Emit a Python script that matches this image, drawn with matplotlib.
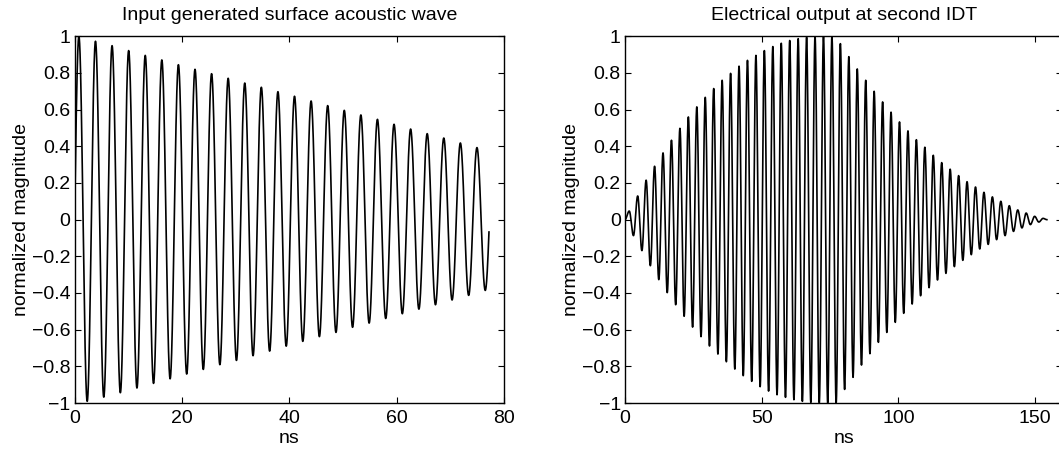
import numpy as np
import matplotlib
matplotlib.use("Agg")
import matplotlib.pyplot as plt
from matplotlib.ticker import FuncFormatter

# ---------------- data ----------------
# carrier period (ns) and time of first positive peak
PERIOD = 3.09
LEFT_FIRST_PEAK_T = 0.8
LEFT_END_T = 77.2
RIGHT_FIRST_PEAK_T = 1.55
RIGHT_END_T = 154.35

# left: successive positive peaks and negative troughs
left_peaks = [1.0, 0.973, 0.949, 0.922, 0.896, 0.871, 0.845, 0.820, 0.796, 0.771,
              0.745, 0.722, 0.698, 0.673, 0.647, 0.622, 0.596, 0.571, 0.547, 0.520,
              0.494, 0.469, 0.445, 0.418, 0.393, 0.37]
left_troughs = [-0.991, -0.968, -0.944, -0.918, -0.893, -0.868, -0.842, -0.817, -0.791,
                -0.768, -0.742, -0.717, -0.690, -0.664, -0.638, -0.615, -0.587, -0.564,
                -0.539, -0.513, -0.488, -0.464, -0.438, -0.413, -0.386]

# right: successive positive peaks and negative troughs
right_peaks = [0.047, 0.129, 0.215, 0.291, 0.364, 0.433, 0.498, 0.560, 0.615, 0.667,
               0.715, 0.760, 0.798, 0.837, 0.869, 0.896, 0.922, 0.944, 0.962, 0.977,
               0.987, 0.995, 1.0, 1.0, 1.0, 0.960, 0.889, 0.822, 0.760, 0.700,
               0.642, 0.586, 0.533, 0.484, 0.436, 0.395, 0.351, 0.311, 0.275, 0.240,
               0.207, 0.178, 0.149, 0.124, 0.100, 0.076, 0.053, 0.036, 0.018, 0.007]
right_troughs = [-0.087, -0.169, -0.251, -0.327, -0.398, -0.464, -0.527, -0.586, -0.638,
                 -0.689, -0.733, -0.775, -0.815, -0.851, -0.882, -0.911, -0.935, -0.955,
                 -0.969, -0.982, -0.991, -0.997, -1.0, -1.0, -1.0, -0.926, -0.860,
                 -0.793, -0.731, -0.669, -0.615, -0.560, -0.511, -0.460, -0.415, -0.371,
                 -0.329, -0.293, -0.256, -0.222, -0.191, -0.160, -0.135, -0.109, -0.087,
                 -0.064, -0.045, -0.027, -0.013]

left_xticks = [0, 20, 40, 60, 80]
right_xticks = [0, 50, 100, 150]
yticks = [-1, -0.8, -0.6, -0.4, -0.2, 0, 0.2, 0.4, 0.6, 0.8, 1]

titles = ["Input generated surface acoustic wave", "Electrical output at second IDT"]
xlabel = "ns"
ylabel = "normalized magnitude"


def extrema_curve(first_t, peaks, troughs, end_t, end_val=None, start_half=False):
    """Smooth curve through alternating extrema (half-cosine between them)."""
    ts, vs = [0.0], [0.0]
    half = PERIOD / 2.0
    n = max(len(peaks), len(troughs))
    t = first_t
    for i in range(n):
        if i < len(peaks):
            ts.append(t); vs.append(peaks[i]); t += half
        if i < len(troughs):
            ts.append(t); vs.append(troughs[i]); t += half
    if end_val is not None:
        ts.append(end_t); vs.append(end_val)
    ts = np.array(ts); vs = np.array(vs)
    tt = np.linspace(0, end_t, 6000)
    yy = np.empty_like(tt)
    for j, x in enumerate(tt):
        i = np.searchsorted(ts, x, side="right") - 1
        i = min(max(i, 0), len(ts) - 2)
        t0, t1, v0, v1 = ts[i], ts[i + 1], vs[i], vs[i + 1]
        f = (x - t0) / (t1 - t0)
        if i == 0 and not start_half:
            yy[j] = v1 * np.sin(0.5 * np.pi * f)
        else:
            yy[j] = (v0 + v1) / 2 + (v0 - v1) / 2 * np.cos(np.pi * f)
    return tt, yy


plt.rcParams['font.family'] = ['Liberation Sans', 'DejaVu Sans']
plt.rcParams['axes.unicode_minus'] = True

W, H = 1059, 449
fig = plt.figure(figsize=(W / 100, H / 100), dpi=100)

def px_axes(x0, x1, y0, y1):
    return fig.add_axes([x0 / W, 1 - y1 / H, (x1 - x0) / W, (y1 - y0) / H])

ax1 = px_axes(74.6, 504.0, 36.3, 403.0)
ax2 = px_axes(625.0, 1062.3, 36.3, 403.0)

t1, y1 = extrema_curve(LEFT_FIRST_PEAK_T, left_peaks, left_troughs, LEFT_END_T)
t2, y2 = extrema_curve(RIGHT_FIRST_PEAK_T, right_peaks, right_troughs, RIGHT_END_T,
                       end_val=0.0, start_half=True)

fmt = FuncFormatter(lambda v, p: ("%g" % v).replace("-", "\u2212"))

FS = 14
for ax, (tt, yy), xl, xt, ttl in [(ax1, (t1, y1), (0, 80), left_xticks, titles[0]),
                                   (ax2, (t2, y2), (0, 160), right_xticks, titles[1])]:
    ax.plot(tt, yy, color="black", lw=1.2)
    ax.set_xlim(*xl)
    ax.set_ylim(-1, 1)
    ax.set_xticks(xt)
    ax.set_yticks(yticks)
    ax.xaxis.set_major_formatter(fmt)
    ax.yaxis.set_major_formatter(fmt)
    ax.tick_params(direction="in", length=4, width=0.8, top=True, right=True,
                   labelsize=FS, pad=3, colors="black")
    ax.tick_params(axis="x", pad=5)
    for s in ax.spines.values():
        s.set_linewidth(1.0)
        s.set_color("black")
    ax.set_title(ttl, fontsize=FS, pad=12)
    ax.set_xlabel(xlabel, fontsize=FS, labelpad=2)
    ax.set_ylabel(ylabel, fontsize=FS, labelpad=1.5)

fig.savefig("out.png", dpi=100)
